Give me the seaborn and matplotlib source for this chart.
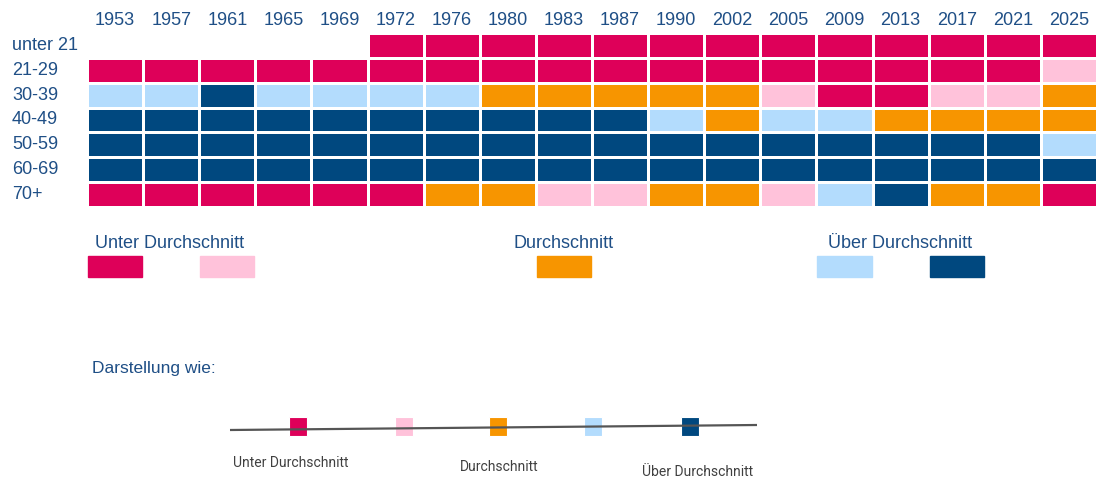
import numpy as np
import pandas as pd
import seaborn as sns
import matplotlib.pyplot as plt
from matplotlib.colors import ListedColormap
from matplotlib.patches import Rectangle
from matplotlib import font_manager as fm

nan = np.nan

# Wahljahre und Altersgruppen
years = ['1953', '1957', '1961', '1965', '1969', '1972', '1976', '1980', '1983',
         '1987', '1990', '2002', '2005', '2009', '2013', '2017', '2021', '2025']
age_groups = ['unter 21', '21-29', '30-39', '40-49', '50-59', '60-69', '70+']

# 1 = stark unter, 2 = unter, 3 = Durchschnitt, 4 = über, 5 = stark über
unter_21 = [nan, nan, nan, nan, nan, 1, 1, 1, 1, 1, 1, 1, 1, 1, 1, 1, 1, 1]
age_21_29 = [1, 1, 1, 1, 1, 1, 1, 1, 1, 1, 1, 1, 1, 1, 1, 1, 1, 2]
age_30_39 = [4, 4, 5, 4, 4, 4, 4, 3, 3, 3, 3, 3, 2, 1, 1, 2, 2, 3]
age_40_49 = [5, 5, 5, 5, 5, 5, 5, 5, 5, 5, 4, 3, 4, 4, 3, 3, 3, 3]
age_50_59 = [5, 5, 5, 5, 5, 5, 5, 5, 5, 5, 5, 5, 5, 5, 5, 5, 5, 4]
age_60_69 = [5, 5, 5, 5, 5, 5, 5, 5, 5, 5, 5, 5, 5, 5, 5, 5, 5, 5]
age_70 = [1, 1, 1, 1, 1, 1, 3, 3, 2, 2, 3, 3, 2, 4, 5, 3, 3, 1]

colors = ['#de0059', '#ffc2da', '#f79500', '#b3dcfd', '#00487f']
legend_groups = ['Unter Durchschnitt', 'Durchschnitt', 'Über Durchschnitt']
text_blue = '#1f4f86'

df = pd.DataFrame([unter_21, age_21_29, age_30_39, age_40_49, age_50_59, age_60_69, age_70],
                  index=age_groups, columns=years)

installed = {f.name for f in fm.fontManager.ttflist}
base_font = 'Liberation Sans' if 'Liberation Sans' in installed else 'DejaVu Sans'
narrow_font = 'Liberation Sans Narrow' if 'Liberation Sans Narrow' in installed else 'Roboto'

sns.set_theme(style='white')
plt.rcParams['font.family'] = [base_font, 'DejaVu Sans']

W, H = 1099, 479
fig = plt.figure(figsize=(W / 100, H / 100), dpi=100)

# Heatmap
left, top, right, bottom = 87, 33, 1097, 207
ax = fig.add_axes([left / W, 1 - bottom / H, (right - left) / W, (bottom - top) / H])
sns.heatmap(df, mask=df.isna(), cmap=ListedColormap(colors), vmin=0.5, vmax=5.5,
            linewidths=1.8, linecolor='white', cbar=False, ax=ax)
ax.xaxis.tick_top()
ax.tick_params(axis='x', length=0, pad=3, labelsize=13, labelcolor=text_blue)
ax.tick_params(axis='y', length=0, pad=54, labelsize=13, labelcolor=text_blue)
ax.set_xticklabels(years, rotation=0)
ax.set_yticklabels(age_groups, rotation=0, ha='left')
ax.set_xlabel('')
ax.set_ylabel('')
for s in ax.spines.values():
    s.set_visible(False)

# Overlay in Pixelkoordinaten für Legende und Skizze
ov = fig.add_axes([0, 0, 1, 1], zorder=-1)
ov.set_xlim(0, W)
ov.set_ylim(H, 0)
ov.axis('off')

pitch = (right - left) / len(years)
cell_w = pitch - 2
# Legende: Kästchen auf Spalten 0, 2, 8, 13, 15
legend_cols = [0, 2, 8, 13, 15]
for col, c in zip(legend_cols, colors):
    ov.add_patch(Rectangle((left + col * pitch + 1, 256), cell_w, 21, color=c))
ov.text(95, 243, legend_groups[0], fontsize=13, color=text_blue, va='center', ha='left')
ov.text(left + 8 * pitch + pitch / 2, 243, legend_groups[1], fontsize=13,
        color=text_blue, va='center', ha='center')
ov.text(900, 243, legend_groups[2], fontsize=13, color=text_blue, va='center', ha='center')

ov.text(92, 368, 'Darstellung wie:', fontsize=12.5, color=text_blue, va='center', ha='left')

# Skizze: Linie mit Kästchen
ov.plot([230, 757], [430, 425], color='#555555', lw=1.6, solid_capstyle='butt')
sketch_x = [298, 404, 498, 593, 690]
for x, c in zip(sketch_x, colors):
    ov.add_patch(Rectangle((x - 9, 417), 18, 19, facecolor=c, edgecolor='white', lw=0.8))

ov.text(233, 463, legend_groups[0], fontsize=10, color='#404040', va='center', ha='left',
        family=[narrow_font, 'DejaVu Sans'])
ov.text(460, 467, legend_groups[1], fontsize=10, color='#404040', va='center', ha='left',
        family=[narrow_font, 'DejaVu Sans'])
ov.text(642, 472, legend_groups[2], fontsize=10, color='#404040', va='center', ha='left',
        family=[narrow_font, 'DejaVu Sans'])

fig.savefig('out.png', dpi=100, facecolor='white')
